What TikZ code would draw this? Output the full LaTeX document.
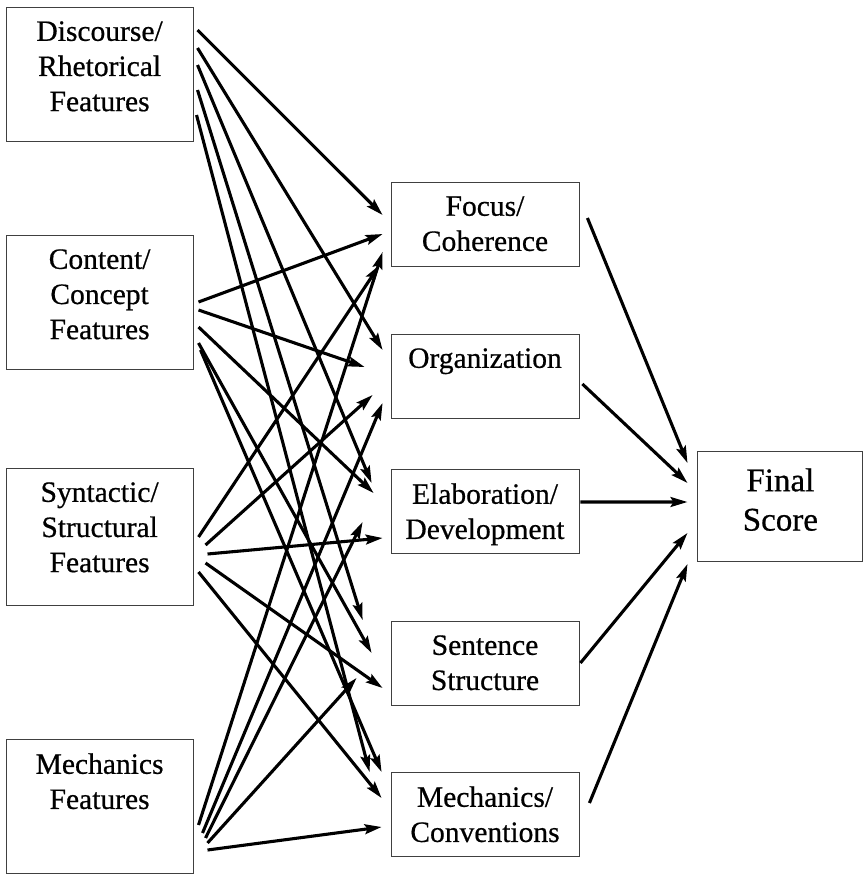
\documentclass[tikz,border=0pt]{standalone}
\usepackage{fontspec}
\setmainfont{Liberation Serif}[FakeBold=0.6]
\usetikzlibrary{positioning,arrows.meta}

\tikzset{
    feat/.style={draw=black!75, line width=0.6pt, minimum width=4.675cm, minimum height=3.35cm, anchor=north},
    trait/.style={draw=black!75, line width=0.6pt, minimum width=4.7cm, minimum height=2.1cm, anchor=north},
    lbl/.style={align=center, inner sep=0pt, font=\fontsize{21}{25}\selectfont},
    conn/.style={line width=2.2pt, -{Stealth[length=12pt,width=7pt,inset=2pt]}}
}

\begin{document}
\begin{tikzpicture}
    \useasboundingbox (0,0) rectangle (21.6,-21.9);

    % feature groups
    \node[feat] (dr) at (2.49,-0.175) {};
    \node[feat] (cc) at (2.49,-5.875) {};
    \node[feat, minimum height=3.43cm] (ss) at (2.49,-11.7) {};
    \node[feat] (mf) at (2.49,-18.475) {};
    \node[lbl, below=0.35cm of dr.north] (dr-t) {Discourse/\\Rhetorical\\Features};
    \node[lbl, below=0.35cm of cc.north] (cc-t) {Content/\\Concept\\Features};
    \node[lbl, below=0.35cm of ss.north] (ss-t) {Syntactic/\\Structural\\Features};
    \node[lbl, below=0.35cm of mf.north] (mf-t) {Mechanics\\Features};

    % traits
    \node[trait] (fc) at (12.125,-4.55) {};
    \node[trait] (org) at (12.125,-8.35) {};
    \node[trait] (ed) at (12.125,-11.725) {};
    \node[trait] (sst) at (12.125,-15.525) {};
    \node[trait] (mc) at (12.125,-19.3) {};
    \node[lbl, below=0.35cm of fc.north] (fc-t) {Focus/\\Coherence};
    \node[lbl, below=0.35cm of org.north] (org-t) {Organization};
    \node[lbl, below=0.35cm of ed.north] (ed-t) {Elaboration/\\Development};
    \node[lbl, below=0.35cm of sst.north] (sst-t) {Sentence\\Structure};
    \node[lbl, below=0.35cm of mc.north] (mc-t) {Mechanics/\\Conventions};

    % final score
    \node[draw=black!75, line width=0.6pt, minimum width=4.125cm, minimum height=2.75cm, anchor=north] (fs) at (19.51,-11.275) {};
    \node[lbl, font=\fontsize{23.5}{28}\selectfont, below=0.425cm of fs.north] (fs-t) {Final\\Score};

    % features -> traits
    \foreach \s/\sx/\sy/\t/\tx/\ty in {
        dr/0.1/-0.575/fc/-0.2/-0.825, dr/0.1/-1.025/org/-0.2/-0.4,
        dr/0.1/-1.45/ed/-0.475/-0.35, dr/0.1/-2.075/sst/-0.7/0.025,
        dr/0.075/-2.7/mc/-0.525/0,
        cc/0.125/-1.675/fc/-0.2/-1.3, cc/0.125/-1.875/org/-0.65/-0.825,
        cc/0.125/-2.3/ed/-0.425/-0.6, cc/0.125/-2.7/sst/-0.475/-0.8,
        cc/0.175/-2.875/mc/-0.225/0,
        ss/0.125/-1.725/fc/-0.275/-2.075, ss/0.3/-1.925/org/-0.45/-1.525,
        ss/0.35/-2.15/ed/-0.2/-1.725, ss/0.3/-2.375/sst/-0.2/-1.675,
        ss/0.125/-2.6/mc/-0.225/-0.65,
        mf/0.125/-2.15/fc/-0.2/-1.75, mf/0.225/-2.35/org/-0.2/-1.725,
        mf/0.3/-2.475/ed/-0.7/-1.325, mf/0.35/-2.6/sst/-0.85/-1.425,
        mf/0.35/-2.775/mc/-0.225/-1.375}
        \draw[conn] ([xshift=\sx cm,yshift=\sy cm]\s.north east) -- ([xshift=\tx cm,yshift=\ty cm]\t.north west);

    % traits -> final score
    \foreach \s/\sx/\sy/\ty in {fc/0.2/-0.9/-0.3, org/0.075/-1.25/-0.8, ed/0.025/-0.825/-1.275,
        sst/0.025/-1.05/-2.05, mc/0.25/-0.775/-2.825}
        \draw[conn] ([xshift=\sx cm,yshift=\sy cm]\s.north east) -- ([xshift=-0.25cm,yshift=\ty cm]fs.north west);
\end{tikzpicture}
\end{document}
